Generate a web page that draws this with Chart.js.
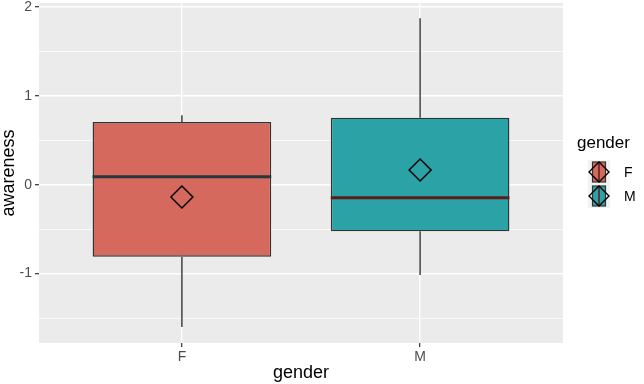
<!DOCTYPE html>
<html>
<head>
<meta charset="utf-8">
<script src="https://cdn.jsdelivr.net/npm/chart.js@4.4.1/dist/chart.umd.min.js"></script>
<style>
html,body{margin:0;padding:0;background:#fff;}
canvas{display:block;}
</style>
</head>
<body>
<canvas id="c" width="644" height="384"></canvas>
<script>
// ---- data ----
const categories = ['F', 'M'];
const lowerWhisker = [-1.60, -1.016];
const q1 = [-0.81, -0.525];
const median = [0.09, -0.146];
const q3 = [0.705, 0.754];
const upperWhisker = [0.78, 1.872];
const means = [-0.138, 0.165];
const yTickValues = [-1, 0, 1, 2];

const fillColors = ['#D5695D', '#2AA2A6'];
const medianColors = ['#27383A', '#5C1B1B'];
const FONT = '"Liberation Sans", Arial, Helvetica, sans-serif';
const BOX_HALF = 0.375;

const xs = categories.map((c, i) => i + 1);

const datasets = [];
// mean diamonds (top)
datasets.push({
  type: 'scatter',
  data: xs.map((x, i) => ({x: x, y: means[i]})),
  pointStyle: 'rectRot',
  pointRadius: 11,
  backgroundColor: 'rgba(0,0,0,0)',
  borderColor: '#000000',
  borderWidth: 1.5,
  order: 0
});
// medians
xs.forEach((x, i) => {
  datasets.push({
    type: 'line',
    data: [{x: x - BOX_HALF, y: median[i]}, {x: x + BOX_HALF, y: median[i]}],
    borderColor: medianColors[i],
    borderWidth: 3,
    pointRadius: 0,
    fill: false,
    order: 1
  });
});
// boxes
datasets.push({
  type: 'bar',
  data: xs.map((x, i) => ({x: x, y: [q1[i], q3[i]]})),
  backgroundColor: fillColors,
  borderColor: '#333333',
  borderWidth: 1.4,
  borderSkipped: false,
  categoryPercentage: 1,
  barPercentage: 0.75,
  order: 2
});
// whiskers
xs.forEach((x, i) => {
  datasets.push({
    type: 'line',
    data: [{x: x, y: q3[i]}, {x: x, y: upperWhisker[i]}],
    borderColor: '#333333', borderWidth: 1.4, pointRadius: 0, fill: false, order: 3
  });
  datasets.push({
    type: 'line',
    data: [{x: x, y: q1[i]}, {x: x, y: lowerWhisker[i]}],
    borderColor: '#333333', borderWidth: 1.4, pointRadius: 0, fill: false, order: 3
  });
});

const panelBg = {
  id: 'panelBg',
  beforeDraw(chart) {
    const a = chart.chartArea, ctx = chart.ctx;
    ctx.save();
    ctx.fillStyle = '#EBEBEB';
    ctx.fillRect(a.left, a.top, a.right - a.left, a.bottom - a.top);
    ctx.restore();
  }
};

const ggLegend = {
  id: 'ggLegend',
  afterDraw(chart) {
    const ctx = chart.ctx;
    ctx.save();
    ctx.fillStyle = '#000';
    ctx.font = '17px ' + FONT;
    ctx.textBaseline = 'alphabetic';
    ctx.textAlign = 'left';
    ctx.fillText('gender', 577, 148);
    categories.forEach((c, i) => {
      const kx = 588, ky = 160 + i * 24, kw = 22, kh = 24;
      ctx.fillStyle = '#F2F2F2';
      ctx.fillRect(kx, ky, kw, kh);
      const cx = kx + kw / 2, cy = ky + kh / 2;
      ctx.fillStyle = fillColors[i];
      ctx.fillRect(cx - 6.5, cy - 10, 13, 20);
      ctx.strokeStyle = '#333';
      ctx.lineWidth = 1.2;
      ctx.strokeRect(cx - 6.5, cy - 10, 13, 20);
      ctx.strokeStyle = '#5C1B1B';
      ctx.lineWidth = 1.5;
      ctx.beginPath(); ctx.moveTo(cx, cy - 10); ctx.lineTo(cx, cy + 10); ctx.stroke();
      ctx.strokeStyle = '#000';
      ctx.lineWidth = 1.4;
      ctx.beginPath();
      ctx.moveTo(cx - 10, cy); ctx.lineTo(cx, cy - 10); ctx.lineTo(cx + 10, cy); ctx.lineTo(cx, cy + 10); ctx.closePath();
      ctx.stroke();
      ctx.fillStyle = '#000';
      ctx.font = '14px ' + FONT;
      ctx.textBaseline = 'middle';
      ctx.fillText(c, 624, cy + 1);
    });
    ctx.restore();
  }
};

new Chart(document.getElementById('c'), {
  type: 'bar',
  data: {datasets: datasets},
  plugins: [panelBg, ggLegend],
  options: {
    responsive: false,
    animation: false,
    events: [],
    layout: {autoPadding: false, padding: {left: 0, right: 81, top: 3, bottom: 0}},
    plugins: {legend: {display: false}, tooltip: {enabled: false}},
    scales: {
      x: {
        type: 'linear',
        min: 0.4, max: 2.6,
        offset: false,
        border: {display: false},
        grid: {offset: false, color: '#FFFFFF', lineWidth: 1.4, tickColor: '#333333', tickLength: 4, tickWidth: 1.2},
        afterBuildTicks(scale) { scale.ticks = xs.map(v => ({value: v})); },
        ticks: {
          autoSkip: false, maxRotation: 0, padding: 2,
          color: '#4D4D4D', font: {family: FONT, size: 14},
          callback: (v) => categories[Math.round(v) - 1] || ''
        },
        title: {display: true, text: 'gender', color: '#000', font: {family: FONT, size: 18, lineHeight: 1.2}, padding: 0},
        afterFit(scale) { scale.height = 41; scale.paddingLeft = 0; scale.paddingRight = 0; }
      },
      y: {
        type: 'linear',
        min: -1.781, max: 2.044,
        border: {display: false},
        grid: {
          color: '#FFFFFF',
          lineWidth: (ctx) => (ctx.tick && Number.isInteger(ctx.tick.value)) ? 1.4 : 0.7,
          tickColor: (ctx) => (ctx.tick && yTickValues.includes(ctx.tick.value)) ? '#333333' : 'rgba(0,0,0,0)',
          tickLength: 4, tickWidth: 1.2
        },
        ticks: {
          stepSize: 0.5, includeBounds: false, autoSkip: false, padding: 3,
          color: '#4D4D4D', font: {family: FONT, size: 14},
          callback: (v) => yTickValues.includes(v) ? String(v) : ''
        },
        title: {display: true, text: 'awareness', color: '#000', font: {family: FONT, size: 18, lineHeight: 1}, padding: 0},
        afterFit(scale) { scale.width = 39; scale.paddingTop = 0; scale.paddingBottom = 0; }
      }
    }
  }
});
</script>
</body>
</html>
